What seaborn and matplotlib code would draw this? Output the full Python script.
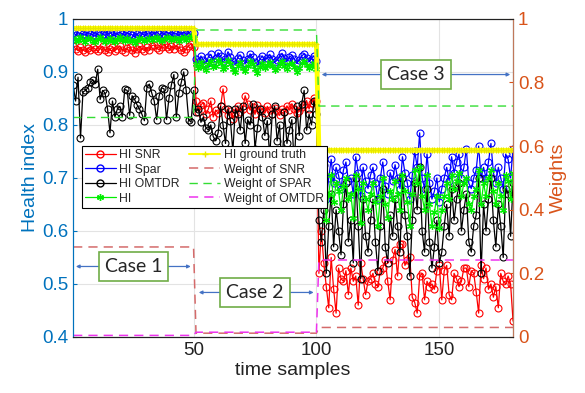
import numpy as np
import pandas as pd
import matplotlib
matplotlib.use("Agg")
import matplotlib.pyplot as plt
import seaborn as sns
from matplotlib.lines import Line2D

# ---------------- data ----------------
case_len = [50, 50, 80]

hi_snr = [
    0.948,0.944,0.940,0.946,0.942,0.938,0.945,0.941,0.947,0.943,
    0.939,0.944,0.948,0.941,0.937,0.943,0.946,0.940,0.944,0.949,
    0.942,0.938,0.945,0.947,0.941,0.936,0.943,0.948,0.944,0.940,
    0.946,0.942,0.949,0.951,0.945,0.941,0.947,0.952,0.946,0.943,
    0.948,0.944,0.950,0.946,0.941,0.937,0.944,0.949,0.953,0.946,
    0.845,0.825,0.838,0.842,0.820,0.830,0.845,0.815,0.828,0.822,
    0.835,0.868,0.830,0.818,0.826,0.812,0.822,0.836,0.825,0.830,
    0.855,0.840,0.828,0.833,0.820,0.838,0.826,0.830,0.822,0.835,
    0.828,0.820,0.832,0.826,0.818,0.830,0.824,0.836,0.828,0.840,
    0.830,0.822,0.826,0.834,0.838,0.846,0.830,0.842,0.850,0.845,
    0.520,0.600,0.540,0.495,0.455,0.550,0.490,0.445,0.530,0.510,
    0.505,0.525,0.480,0.530,0.505,0.515,0.460,0.540,0.510,0.480,
    0.505,0.510,0.520,0.500,0.495,0.525,0.530,0.545,0.505,0.470,
    0.545,0.565,0.515,0.575,0.575,0.535,0.545,0.550,0.475,0.465,
    0.445,0.515,0.520,0.470,0.505,0.495,0.500,0.490,0.525,0.535,
    0.470,0.525,0.535,0.480,0.470,0.520,0.510,0.495,0.505,0.530,
    0.530,0.495,0.525,0.520,0.485,0.445,0.535,0.510,0.530,0.490,
    0.500,0.475,0.495,0.455,0.520,0.505,0.500,0.515,0.500,0.430,
]

hi_spar = [
    0.974,0.970,0.968,0.973,0.971,0.969,0.975,0.972,0.970,0.967,
    0.973,0.976,0.971,0.969,0.972,0.974,0.970,0.968,0.973,0.975,
    0.971,0.969,0.974,0.972,0.970,0.966,0.971,0.975,0.973,0.969,
    0.972,0.974,0.970,0.973,0.976,0.971,0.968,0.972,0.975,0.973,
    0.970,0.974,0.972,0.969,0.973,0.975,0.971,0.974,0.977,0.973,
    0.925,0.918,0.930,0.922,0.915,0.928,0.933,0.921,0.926,0.936,
    0.930,0.918,0.924,0.938,0.929,0.920,0.915,0.927,0.932,0.922,
    0.917,0.925,0.934,0.928,0.919,0.913,0.924,0.930,0.921,0.927,
    0.933,0.925,0.918,0.922,0.929,0.935,0.926,0.920,0.928,0.931,
    0.924,0.916,0.922,0.930,0.934,0.927,0.921,0.925,0.930,0.920,
    0.710,0.680,0.725,0.660,0.700,0.735,0.690,0.720,0.705,0.680,
    0.715,0.730,0.695,0.700,0.670,0.740,0.710,0.665,0.720,0.695,
    0.680,0.705,0.720,0.690,0.660,0.700,0.730,0.685,0.670,0.710,
    0.695,0.725,0.700,0.680,0.740,0.710,0.690,0.660,0.705,0.750,
    0.720,0.785,0.700,0.680,0.745,0.690,0.660,0.675,0.700,0.655,
    0.680,0.700,0.720,0.695,0.740,0.710,0.730,0.745,0.700,0.720,
    0.755,0.690,0.680,0.700,0.715,0.760,0.700,0.720,0.700,0.730,
    0.765,0.710,0.690,0.720,0.700,0.680,0.745,0.735,0.700,0.755,
]

hi_omtdr = [
    0.875,0.845,0.890,0.775,0.862,0.865,0.870,0.880,0.885,0.878,
    0.905,0.848,0.865,0.860,0.830,0.785,0.845,0.815,0.830,0.835,
    0.815,0.867,0.865,0.818,0.855,0.848,0.838,0.830,0.820,0.808,
    0.870,0.877,0.860,0.845,0.810,0.855,0.870,0.868,0.810,0.850,
    0.876,0.895,0.815,0.860,0.880,0.900,0.865,0.810,0.805,0.865,
    0.825,0.830,0.805,0.815,0.795,0.790,0.800,0.778,0.770,0.785,
    0.835,0.800,0.765,0.830,0.808,0.750,0.830,0.820,0.790,0.835,
    0.765,0.810,0.800,0.840,0.755,0.795,0.830,0.815,0.780,0.808,
    0.740,0.820,0.835,0.770,0.800,0.710,0.825,0.765,0.790,0.810,
    0.720,0.835,0.780,0.840,0.865,0.790,0.820,0.800,0.845,0.820,
    0.620,0.580,0.640,0.520,0.610,0.670,0.570,0.640,0.600,0.555,
    0.650,0.690,0.580,0.620,0.540,0.700,0.610,0.510,0.660,0.590,
    0.560,0.620,0.660,0.580,0.525,0.610,0.680,0.570,0.540,0.630,
    0.590,0.660,0.610,0.560,0.700,0.630,0.590,0.515,0.620,0.690,
    0.640,0.720,0.600,0.560,0.680,0.580,0.530,0.570,0.620,0.540,
    0.560,0.610,0.650,0.590,0.680,0.620,0.660,0.690,0.600,0.640,
    0.670,0.580,0.560,0.610,0.630,0.700,0.520,0.650,0.600,0.660,
    0.700,0.620,0.570,0.650,0.610,0.550,0.680,0.670,0.590,0.690,
]

hi_fused = [
    0.964,0.958,0.961,0.966,0.960,0.957,0.963,0.962,0.959,0.956,
    0.962,0.965,0.960,0.957,0.961,0.964,0.959,0.956,0.962,0.966,
    0.960,0.958,0.963,0.961,0.959,0.955,0.960,0.964,0.962,0.958,
    0.961,0.964,0.960,0.963,0.966,0.961,0.958,0.962,0.965,0.963,
    0.960,0.964,0.962,0.959,0.963,0.965,0.961,0.964,0.968,0.963,
    0.915,0.908,0.918,0.910,0.903,0.914,0.920,0.909,0.912,0.922,
    0.916,0.905,0.910,0.923,0.914,0.906,0.900,0.912,0.918,0.908,
    0.902,0.911,0.920,0.914,0.905,0.897,0.910,0.916,0.907,0.913,
    0.919,0.911,0.904,0.908,0.915,0.921,0.912,0.906,0.914,0.917,
    0.910,0.900,0.908,0.916,0.920,0.913,0.907,0.911,0.916,0.906,
    0.680,0.650,0.695,0.620,0.670,0.705,0.655,0.690,0.675,0.640,
    0.685,0.700,0.660,0.670,0.625,0.705,0.680,0.615,0.690,0.660,
    0.640,0.670,0.690,0.655,0.610,0.665,0.700,0.650,0.625,0.675,
    0.660,0.695,0.670,0.640,0.705,0.675,0.655,0.610,0.670,0.715,
    0.690,0.720,0.665,0.640,0.705,0.650,0.610,0.635,0.665,0.605,
    0.640,0.665,0.690,0.660,0.705,0.680,0.695,0.710,0.665,0.690,
    0.700,0.650,0.640,0.665,0.680,0.715,0.650,0.690,0.665,0.700,
    0.715,0.675,0.650,0.690,0.665,0.640,0.705,0.695,0.660,0.710,
]

gt_levels = [0.982, 0.952, 0.752]
w_snr_levels = [0.283, 0.012, 0.030]
w_spar_levels = [0.690, 0.965, 0.726]
w_omtdr_levels = [0.005, 0.015, 0.242]

x = np.arange(1, 181)
hi_gt = np.repeat(gt_levels, case_len)
w_snr = np.repeat(w_snr_levels, case_len)
w_spar = np.repeat(w_spar_levels, case_len)
w_omtdr = np.repeat(w_omtdr_levels, case_len)

# ---------------- style ----------------
sns.set_style("white")
plt.rcParams['font.family'] = ['Liberation Sans', 'DejaVu Sans']

BLUE_AX = '#0072BD'
ORANGE_AX = '#D95319'

fig = plt.figure(figsize=(5.85, 3.93), dpi=100)
ax = fig.add_axes([0.125, 0.1425, 0.752, 0.8095])
ax2 = ax.twinx()

ms = 5
lw = 0.9
sns.lineplot(x=x, y=hi_snr, ax=ax, color='red', lw=lw, marker='o', markersize=ms,
             markerfacecolor='none', markeredgecolor='red', markeredgewidth=0.8)
sns.lineplot(x=x, y=hi_spar, ax=ax, color='blue', lw=lw, marker='o', markersize=ms,
             markerfacecolor='none', markeredgecolor='blue', markeredgewidth=0.8)
sns.lineplot(x=x, y=hi_omtdr, ax=ax, color='black', lw=lw, marker='o', markersize=ms,
             markerfacecolor='none', markeredgecolor='black', markeredgewidth=0.8)
sns.lineplot(x=x, y=hi_fused, ax=ax, color='#00ee00', lw=lw, marker=(6, 2, 0), markersize=5,
             markeredgecolor='#00ee00', markeredgewidth=0.9)
sns.lineplot(x=x, y=hi_gt, ax=ax, color='#ffff00', lw=3.5, marker='+', markersize=4,
             markeredgecolor='#e6e600', markeredgewidth=0.8)

sns.lineplot(x=x, y=w_snr, ax=ax2, color='#d46a6a', lw=1.1, linestyle=(0, (6, 4)))
sns.lineplot(x=x, y=w_spar, ax=ax2, color='#33dd33', lw=1.0, linestyle=(0, (6, 4)))
sns.lineplot(x=x, y=w_omtdr, ax=ax2, color='#ee33ee', lw=1.1, linestyle=(0, (6, 4)))

ax.set_xlim(1, 180)
ax.set_ylim(0.4, 1.0)
ax2.set_ylim(0, 1)
ax.set_xticks([50, 100, 150])
ax.set_yticks([0.4, 0.5, 0.6, 0.7, 0.8, 0.9, 1.0])
ax.set_yticklabels(['0.4', '0.5', '0.6', '0.7', '0.8', '0.9', '1'])
ax2.set_yticks([0, 0.2, 0.4, 0.6, 0.8, 1.0])
ax2.set_yticklabels(['0', '0.2', '0.4', '0.6', '0.8', '1'])

ax.grid(True, color='#e3e3e3', lw=0.8)
ax.set_axisbelow(True)

ax.tick_params(axis='y', colors=BLUE_AX, labelsize=13.5, length=3, direction='in')
ax.tick_params(axis='x', colors='#222222', labelsize=13.5, length=3, direction='in')
ax2.tick_params(axis='y', colors=ORANGE_AX, labelsize=13.5, length=3, direction='in')

ax.set_xlabel('time samples', fontsize=14, color='#222222', labelpad=2)
ax.set_ylabel('Health index', fontsize=14, color=BLUE_AX, labelpad=2)
ax2.set_ylabel('Weights', fontsize=14, color=ORANGE_AX, labelpad=4)

for a in (ax, ax2):
    for s in a.spines.values():
        s.set_linewidth(0.8)
        s.set_color('#222222')
ax2.spines['left'].set_color(BLUE_AX)
ax2.spines['right'].set_color('#c0785a')
ax.spines['left'].set_color(BLUE_AX)

# legend
handles = [
    Line2D([], [], color='red', lw=lw, marker='o', markerfacecolor='none', markersize=ms),
    Line2D([], [], color='blue', lw=lw, marker='o', markerfacecolor='none', markersize=ms),
    Line2D([], [], color='black', lw=lw, marker='o', markerfacecolor='none', markersize=ms),
    Line2D([], [], color='#00ee00', lw=lw, marker=(6, 2, 0), markersize=5),
    Line2D([], [], color='#ffff00', lw=1.5, marker='+', markeredgecolor='#e6e600', markersize=5),
    Line2D([], [], color='#d46a6a', lw=1.1, linestyle=(0, (6, 4))),
    Line2D([], [], color='#33dd33', lw=1.0, linestyle=(0, (6, 4))),
    Line2D([], [], color='#ee33ee', lw=1.1, linestyle=(0, (6, 4))),
]
labels = ['HI SNR', 'HI Spar', 'HI OMTDR', 'HI', 'HI ground truth',
          'Weight of SNR', 'Weight of SPAR', 'Weight of OMTDR']
leg = ax2.legend(handles, labels, ncol=2, loc='upper left',
                 bbox_to_anchor=(0.02, 0.6), fontsize=8.8, frameon=True, fancybox=False,
                 edgecolor='black', framealpha=1, borderpad=0.25, labelspacing=0.2,
                 handlelength=2.5, handletextpad=0.3, columnspacing=0.8, borderaxespad=0)
leg.get_frame().set_linewidth(0.8)
leg.set_zorder(10)

# case annotations
arrow_kw = dict(arrowstyle='<|-|>', color='#4472C4', lw=0.9, mutation_scale=5)
box_kw = dict(boxstyle='square,pad=0.3', facecolor='white', edgecolor='#70AD47', lw=1.2)
cases = [('Case 1', 1, 50, 0.533, 25.5), ('Case 2', 51, 100, 0.484, 75),
         ('Case 3', 101, 180, 0.895, 140.5)]
for label, x0, x1, yv, xc in cases:
    ax.annotate('', xy=(x0, yv), xytext=(x1, yv), arrowprops=arrow_kw, zorder=11)
    ax.text(xc, yv, label, ha='center', va='center', fontsize=14, family=['Lato', 'DejaVu Sans'],
            bbox=box_kw, zorder=12)

fig.savefig('out.png', dpi=100)
